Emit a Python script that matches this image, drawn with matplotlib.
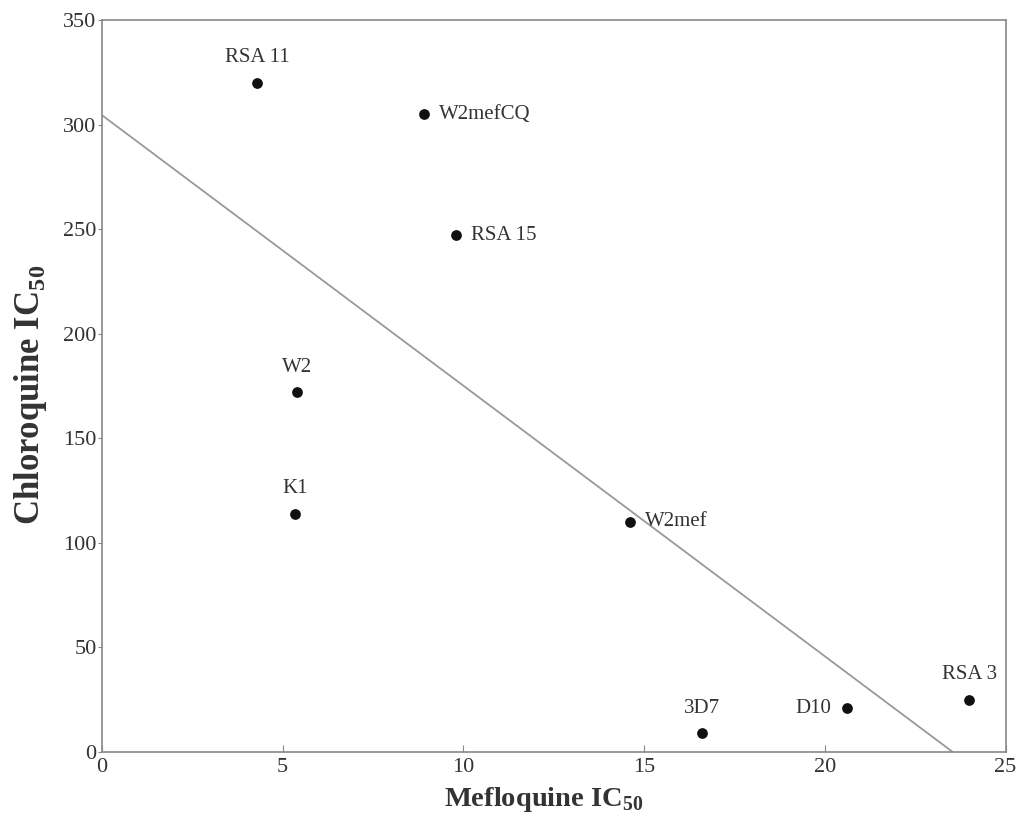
import numpy as np
import matplotlib.pyplot as plt

plt.rcParams['font.family'] = ['Liberation Serif', 'DejaVu Serif']
plt.rcParams['mathtext.fontset'] = 'custom'
plt.rcParams['mathtext.rm'] = 'Liberation Serif'
plt.rcParams['mathtext.bf'] = 'Liberation Serif:bold'

strains = ['RSA 11', 'W2mefCQ', 'RSA 15', 'W2', 'K1', 'W2mef', '3D7', 'D10', 'RSA 3']
mefloquine = [4.3, 8.9, 9.8, 5.4, 5.35, 14.6, 16.6, 20.6, 24.0]
chloroquine = [320, 305, 247, 172, 114, 110, 9, 21, 25]
# where each label sits relative to its point
label_pos = ['above', 'right', 'right', 'above', 'above', 'right', 'above', 'left', 'above']

text_col = '#333333'

fig = plt.figure(figsize=(10.21, 8.3), dpi=100)
ax = fig.add_axes([0.0999, 0.094, 0.885, 0.882])

ax.scatter(mefloquine, chloroquine, s=45, color='#111111', zorder=3)

# least-squares regression line, drawn down to where it crosses zero
slope, icpt = np.polyfit(mefloquine, chloroquine, 1)
x_end = -icpt / slope
ax.plot([0, x_end], [icpt, 0], color='#999999', lw=1.3, zorder=2)

offsets = {'above': ((0, 11), 'center', 'bottom'),
           'right': ((11, 0), 'left', 'center'),
           'left': ((-11, 0), 'right', 'center')}
for name, x, y, pos in zip(strains, mefloquine, chloroquine, label_pos):
    off, ha, va = offsets[pos]
    ax.annotate(name, (x, y), xytext=off, textcoords='offset points',
                ha=ha, va=va, fontsize=15, color=text_col)

ax.set_xlim(0, 25)
ax.set_ylim(0, 350)
ax.set_xticks(range(0, 26, 5))
ax.set_yticks(range(0, 351, 50))
ax.tick_params(axis='x', direction='in', length=5, labelsize=16, colors='#888888',
               labelcolor=text_col, pad=4)
ax.tick_params(axis='y', direction='out', length=3, labelsize=16, colors='#888888',
               labelcolor=text_col, pad=1)
for sp in ax.spines.values():
    sp.set_color('#888888')
    sp.set_linewidth(1.2)

ax.set_xlabel(r'Mefloquine IC$_{\mathbf{50}}$', fontsize=20.5, fontweight='bold',
              color=text_col, labelpad=6)
ax.set_ylabel(r'Chloroquine IC$_{\mathbf{50}}$', fontsize=25, fontweight='bold',
              color=text_col, labelpad=10)
ax.xaxis.label.set_x(0.489)
ax.yaxis.label.set_y(0.488)

fig.savefig('out.png', dpi=100)
